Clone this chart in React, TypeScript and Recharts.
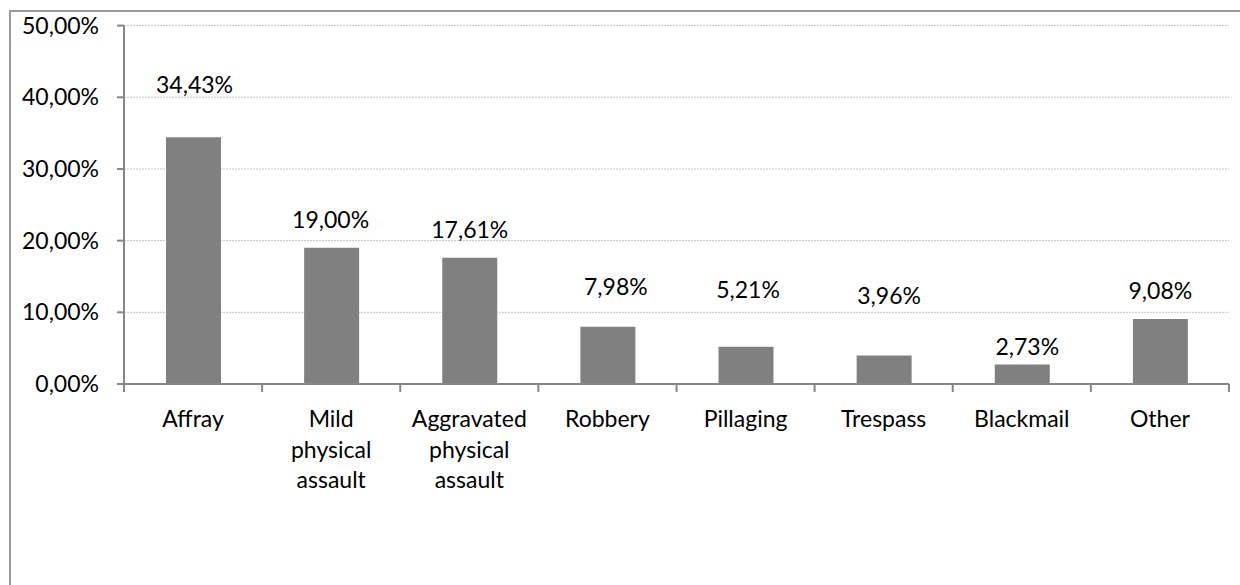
import React from "react";
import { BarChart, Bar, XAxis, YAxis, CartesianGrid, LabelList } from "recharts";

const CATEGORIES = [
  "Affray",
  "Mild physical assault",
  "Aggravated physical assault",
  "Robbery",
  "Pillaging",
  "Trespass",
  "Blackmail",
  "Other",
];
const SHARES = [34.43, 19.0, 17.61, 7.98, 5.21, 3.96, 2.73, 9.08];
const Y_TICKS = [0, 10, 20, 30, 40, 50];

// manual label placement offsets (px) as in the reference
const LABEL_DY = [-44, -20, -20, -32, -49, -52, -9, -20];
const LABEL_DX = [1, -1, 0, 8, 2, 5, 5, 0];

const data = CATEGORIES.map((c, i) => ({ name: c, value: SHARES[i] }));

const FONT = "Lato, 'Open Sans', sans-serif";
const FONT_SIZE = 23;
const AXIS_COLOR = "#878787";
const W = 1240;
const H = 585;
const MARGIN = { top: 25.6, right: 11, bottom: 101, left: 0 };
const Y_AXIS_W = 124;
const PLOT_W = W - MARGIN.left - MARGIN.right - Y_AXIS_W;
const BAND = PLOT_W / CATEGORIES.length;

const fmt = (v: number) => v.toFixed(2).replace(".", ",") + "%";

const XTick = (props: any) => {
  const { x, y, payload, index } = props;
  const lines = String(payload.value).split(" ");
  const left = x - BAND / 2;
  const right = x + BAND / 2;
  return (
    <g>
      <line x1={left} x2={left} y1={y} y2={y + 8} stroke={AXIS_COLOR} strokeWidth={2} />
      {index === CATEGORIES.length - 1 && (
        <line x1={right} x2={right} y1={y} y2={y + 8} stroke={AXIS_COLOR} strokeWidth={2} />
      )}
      <text
        x={x}
        y={y + 43}
        textAnchor="middle"
        fill="#000"
        fontFamily={FONT}
        fontSize={FONT_SIZE}
      >
        {lines.map((l, i) => (
          <tspan key={i} x={x} dy={i === 0 ? 0 : 30.5}>
            {l}
          </tspan>
        ))}
      </text>
    </g>
  );
};

const ValueLabel = (props: any) => {
  const { x, y, width, value, index } = props;
  const cx = x + width / 2 + (LABEL_DX[index] ?? 0);
  return (
    <text
      x={cx}
      y={y + (LABEL_DY[index] ?? -10)}
      textAnchor="middle"
      fill="#000"
      fontFamily={FONT}
      fontSize={FONT_SIZE}
    >
      {fmt(Number(value))}
    </text>
  );
};

export default function App() {
  return (
    <div
      style={{
        position: "fixed",
        left: 0,
        top: 0,
        width: W,
        height: H,
        overflow: "hidden",
        background: "#fff",
      }}
    >
      <div
        style={{
          position: "absolute",
          left: 8.5,
          top: 9.5,
          width: 1400,
          height: 800,
          border: "2px solid #9a9a9a",
          boxSizing: "border-box",
        }}
      />
      <div style={{ position: "absolute", left: 0, top: 0 }}>
        <BarChart width={W} height={H} data={data} margin={MARGIN}>
          <CartesianGrid
            horizontal={true}
            vertical={false}
            stroke="#c4c4c4"
            strokeDasharray="2 1"
          />
          <XAxis
            dataKey="name"
            interval={0}
            tickLine={false}
            tickSize={0}
            tickMargin={0}
            height={100}
            axisLine={{ stroke: AXIS_COLOR, strokeWidth: 2 }}
            tick={<XTick />}
          />
          <YAxis
            width={Y_AXIS_W}
            domain={[0, 50]}
            ticks={Y_TICKS}
            tickFormatter={(v: number) => fmt(v)}
            tickSize={7}
            tickMargin={18}
            axisLine={{ stroke: AXIS_COLOR, strokeWidth: 2 }}
            tickLine={{ stroke: AXIS_COLOR, strokeWidth: 2 }}
            tick={{ fill: "#000", fontFamily: FONT, fontSize: FONT_SIZE }}
            allowDataOverflow
          />
          <Bar dataKey="value" fill="#808080" barSize={55} isAnimationActive={false}>
            <LabelList dataKey="value" content={<ValueLabel />} />
          </Bar>
        </BarChart>
      </div>
    </div>
  );
}
